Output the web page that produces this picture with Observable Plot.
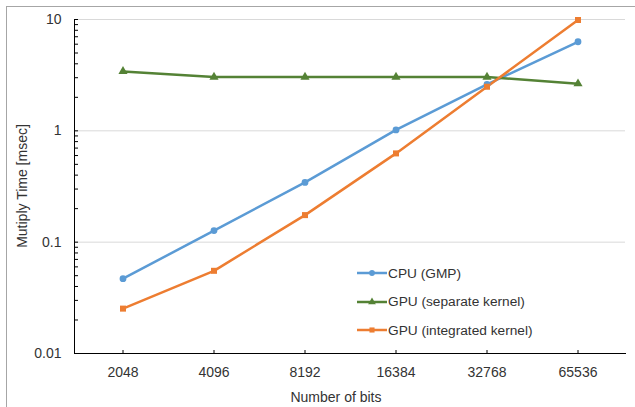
<!DOCTYPE html>
<html>
<head>
<meta charset="utf-8">
<script src="https://cdn.jsdelivr.net/npm/d3@7"></script>
<script src="https://cdn.jsdelivr.net/npm/@observablehq/plot@0.6"></script>
<style>
  body { margin: 0; background: #fff; }
  #chart { position: relative; width: 635px; height: 407px; overflow: hidden;
           font-family: "Liberation Sans", Arial, sans-serif; color: #333; }
  #chart svg { position: absolute; left: 0; top: 0; }
  #border { position: absolute; left: 6px; top: 6px; width: 700px; height: 500px;
            border-left: 1px solid #a6a6a6; border-top: 1px solid #a6a6a6; }
  .axis-title { position: absolute; font-size: 14px; white-space: nowrap; color: #333; }
  #ytitle { left: 22px; top: 186px; transform: translate(-50%, -50%) rotate(-90deg); }
  #xtitle { left: 336px; top: 390px; transform: translate(-50%, 0); line-height: 14px; }
  #legend { position: absolute; left: 357px; top: 259px; font-size: 13.7px; }
  .item { display: flex; align-items: center; height: 28.5px; }
  .item svg { position: static !important; margin-right: 1px; }
</style>
</head>
<body>
<div id="chart">
  <div id="border"></div>
</div>
<script>
// ---- data ----
const bits = ["2048", "4096", "8192", "16384", "32768", "65536"];
const seriesNames = ["CPU (GMP)", "GPU (separate kernel)", "GPU (integrated kernel)"];
const cpu    = [0.047, 0.127, 0.344, 1.02, 2.61, 6.31];
const gpuSep = [3.42, 3.04, 3.04, 3.04, 3.04, 2.65];
const gpuInt = [0.0253, 0.0553, 0.175, 0.627, 2.49, 9.9];
const yMajorTicks = [0.01, 0.1, 1, 10];
const yTickLabels = ["0.01", "0.1", "1", "10"];
const seriesColors = ["#5B9BD5", "#548235", "#ED7D31"];
const seriesSymbols = ["circle", "triangle", "square"];
const xTitle = "Number of bits";
const yTitle = "Mutiply Time [msec]";

// ---- build table ----
const seriesValues = [cpu, gpuSep, gpuInt];
const rows = seriesNames.flatMap((name, i) =>
  bits.map((b, j) => ({ bits: b, value: seriesValues[i][j], series: name })));
const yDomain = [yMajorTicks[0], yMajorTicks[yMajorTicks.length - 1]];
const minorTicks = d3.scaleLog().domain(yDomain).ticks();
const labelOf = d => yTickLabels[yMajorTicks.indexOf(d)] ?? "";

const plot = Plot.plot({
  width: 635,
  height: 407,
  marginLeft: 74,
  marginRight: 10,
  marginTop: 19,
  marginBottom: 54,
  style: { fontFamily: '"Liberation Sans", Arial, sans-serif', fontSize: "14px", color: "#333", background: "transparent" },
  x: { type: "band", domain: bits, padding: 0, label: null },
  y: { type: "log", domain: yDomain, label: null },
  color: { domain: seriesNames, range: seriesColors },
  symbol: { domain: seriesNames, range: seriesSymbols },
  marks: [
    Plot.gridY(yMajorTicks, { stroke: "#d9d9d9", strokeOpacity: 1, strokeWidth: 1 }),
    Plot.axisY({ ticks: minorTicks, tickSize: -4, tickFormat: () => "", stroke: "#000", label: null }),
    Plot.axisY({ ticks: yMajorTicks, tickSize: 0, tickPadding: 13, tickFormat: labelOf, label: null, fill: "#333" }),
    Plot.axisX({ tickSize: 0, tickPadding: 14, label: null, fill: "#333" }),
    Plot.axisX({ tickSize: -3, tickFormat: () => "", stroke: "#000", label: null }),
    Plot.frame({ anchor: "left", stroke: "#000" }),
    Plot.frame({ anchor: "bottom", stroke: "#000" }),
    Plot.line(rows, { x: "bits", y: "value", z: "series", stroke: "series", strokeWidth: 2.5 }),
    Plot.dot(rows, { x: "bits", y: "value", fill: "series", symbol: "series", r: 3.4, stroke: null })
  ]
});

const chart = document.getElementById("chart");
chart.appendChild(plot);

// axis titles
const yt = document.createElement("div");
yt.className = "axis-title"; yt.id = "ytitle"; yt.textContent = yTitle;
chart.appendChild(yt);
const xt = document.createElement("div");
xt.className = "axis-title"; xt.id = "xtitle"; xt.textContent = xTitle;
chart.appendChild(xt);

// legend
const legend = d3.select(chart).append("div").attr("id", "legend");
const symGen = d3.symbol().size(26);
const symMap = { circle: d3.symbolCircle, triangle: d3.symbolTriangle, square: d3.symbolSquare };
seriesNames.forEach((name, i) => {
  const item = legend.append("div").attr("class", "item");
  const s = item.append("svg").attr("width", 30).attr("height", 10);
  s.append("line").attr("x1", 0).attr("x2", 30).attr("y1", 5).attr("y2", 5)
    .attr("stroke", seriesColors[i]).attr("stroke-width", 2.5);
  s.append("path").attr("transform", "translate(15,5)")
    .attr("d", symGen.type(symMap[seriesSymbols[i]])())
    .attr("fill", seriesColors[i]);
  item.append("span").text(name);
});
</script>
</body>
</html>
